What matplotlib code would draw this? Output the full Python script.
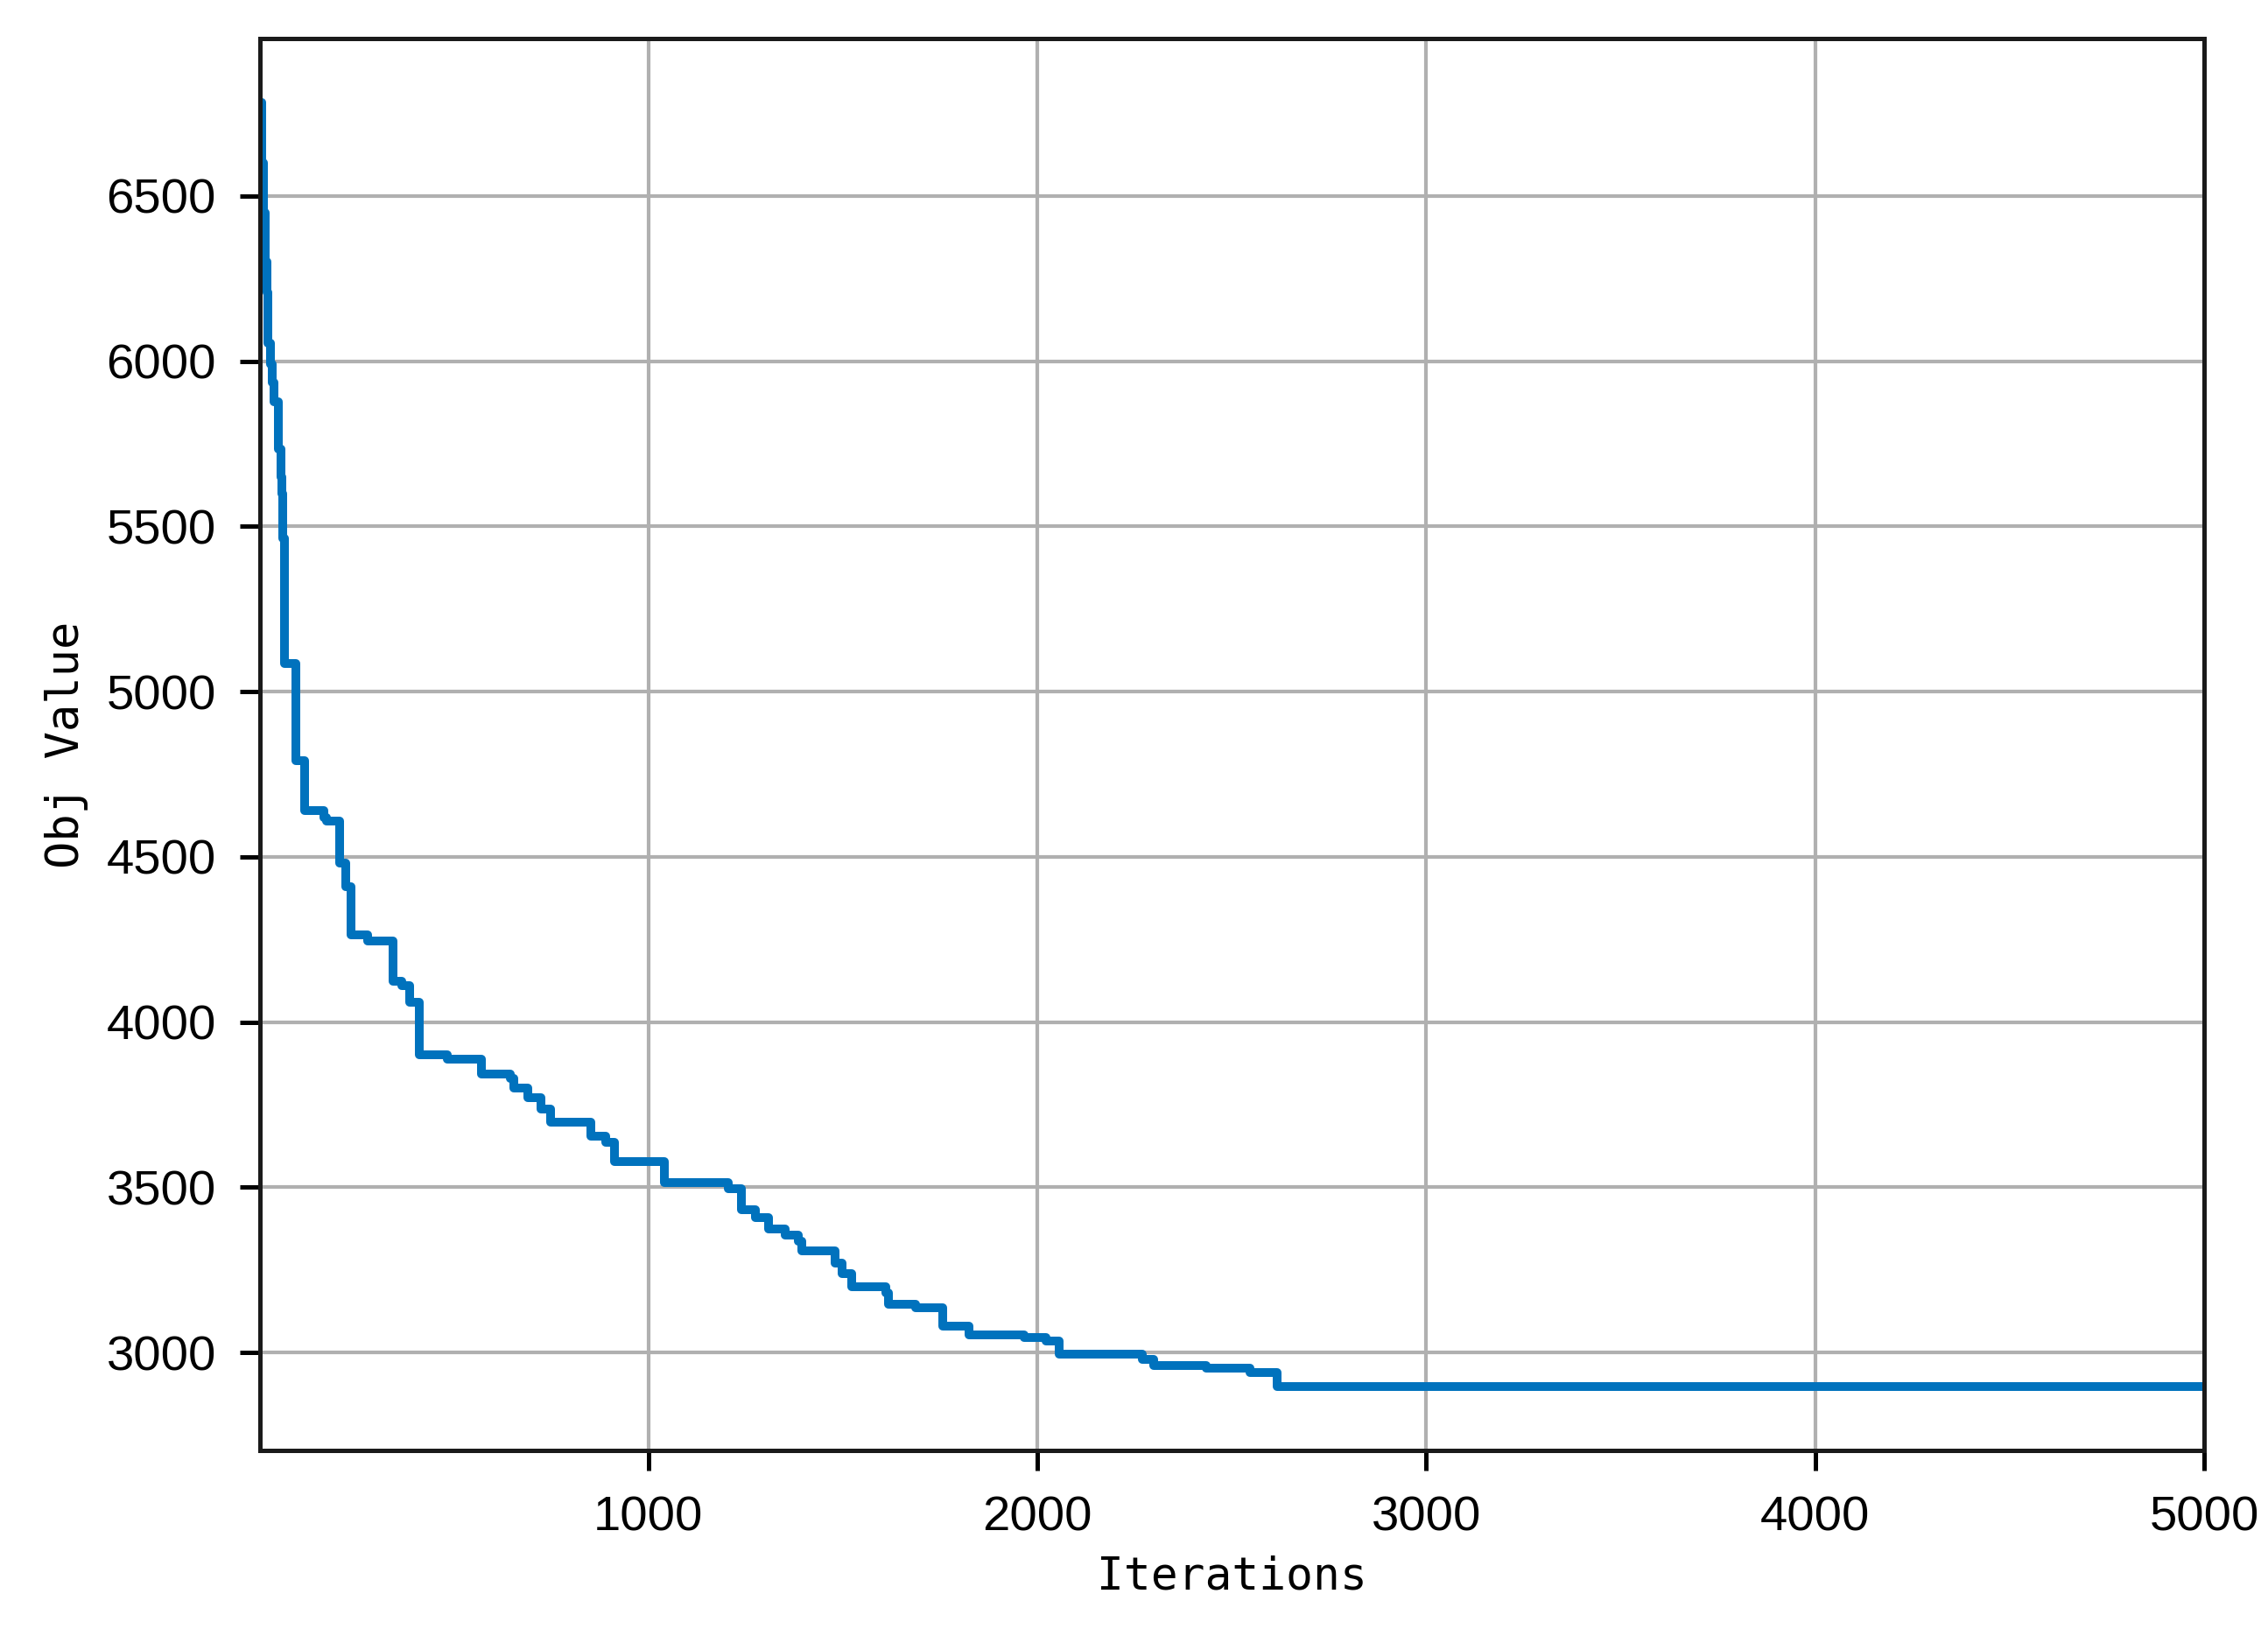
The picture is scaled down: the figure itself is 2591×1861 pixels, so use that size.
import numpy as np
import matplotlib
matplotlib.use("Agg")
import matplotlib.pyplot as plt

# Step breakpoints of best objective value vs iteration
iterations = [1, 6, 10, 14, 18, 22, 28, 32, 38, 48, 54, 57, 60, 64, 94, 116, 166, 172,
              206, 222, 236, 278, 344, 365, 385, 410, 482, 571, 645, 654, 689, 723,
              749, 852, 890, 912, 1041, 1205, 1239, 1274, 1308, 1351, 1385, 1394, 1480,
              1497, 1523, 1610, 1618, 1687, 1756, 1824, 1965, 2022, 2057, 2270, 2298,
              2435, 2547, 2616, 5000]
obj_values = [6782, 6600, 6450, 6300, 6207, 6054, 5990, 5936, 5877, 5734, 5650, 5599,
              5465, 5086, 4791, 4640, 4620, 4607, 4480, 4410, 4263, 4246, 4123, 4110,
              4059, 3900, 3889, 3844, 3830, 3801, 3772, 3737, 3698, 3655, 3637, 3578,
              3514, 3497, 3432, 3409, 3374, 3356, 3338, 3307, 3270, 3239, 3198, 3180,
              3145, 3136, 3081, 3054, 3046, 3034, 2995, 2980, 2960, 2952, 2940, 2898,
              2898]

xticks = [1000, 2000, 3000, 4000, 5000]
yticks = [3000, 3500, 4000, 4500, 5000, 5500, 6000, 6500]

plt.rcParams['font.family'] = ['DejaVu Sans Mono']
tick_family = ['Liberation Sans', 'DejaVu Sans']

W, H, DPI = 2591, 1861, 300
fig = plt.figure(figsize=(W / DPI, H / DPI), dpi=DPI)
ax = fig.add_axes([297 / W, 1 - 1657 / H, (2518 - 297) / W, (1657 - 44) / H])

ax.step(iterations, obj_values, where='post', color='#0072BD', linewidth=2.4)

ax.set_xlim(1, 5000)
ax.set_xticks(xticks)
ax.set_yticks(yticks)
ax.grid(True, color='#b0b0b0', linewidth=1.0)
ax.set_axisbelow(True)

for s in ax.spines.values():
    s.set_linewidth(1.2)
    s.set_color('#1a1a1a')
ax.tick_params(axis='both', direction='out', length=5.5, width=1.2)
ax.tick_params(axis='x', pad=6.8)
ax.tick_params(axis='y', pad=6.5)
for lab in ax.get_xticklabels() + ax.get_yticklabels():
    lab.set_family(tick_family)
    lab.set_fontsize(13.5)

ax.set_xlabel('Iterations', fontsize=12.3, labelpad=4)
ax.set_ylabel('Obj Value', fontsize=12.5, labelpad=5)

fig.savefig('out.png', dpi=DPI)
